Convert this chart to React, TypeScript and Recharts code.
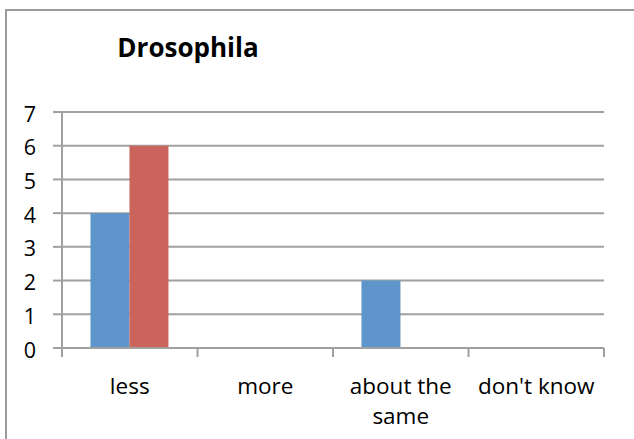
import React from 'react';
import { BarChart, Bar, XAxis, YAxis, CartesianGrid } from 'recharts';

const categories = ['less', 'more', 'about the same', "don't know"];
const categoryLines = [['less'], ['more'], ['about the', 'same'], ["don't know"]];
const seriesBlue = [4, 0, 2, 0];
const seriesRed = [6, 0, 0, 0];
const yTicks = [0, 1, 2, 3, 4, 5, 6, 7];
const title = 'Drosophila';

const data = categories.map((c, i) => ({ category: c, blue: seriesBlue[i], red: seriesRed[i] }));

const FONT = '"Open Sans", "DejaVu Sans", sans-serif';
const AXIS = '#a0a0a0';

const XTick = (props: any) => {
  const { x, y, payload, index, width } = props;
  const half = payload && payload.offset ? payload.offset : width / (2 * categories.length);
  const lines = categoryLines[index] || [String(payload.value)];
  const top = y - 9;
  return (
    <g>
      <line x1={x - half} x2={x - half} y1={top} y2={y} stroke={AXIS} strokeWidth={2} />
      {index === categories.length - 1 && (
        <line x1={x + half} x2={x + half} y1={top} y2={y} stroke={AXIS} strokeWidth={2} />
      )}
      <text x={x} y={y} textAnchor="middle" fontFamily={FONT} fontSize={22.5} fill="#000">
        {lines.map((l: string, i: number) => (
          <tspan key={i} x={x} dy={i === 0 ? 37 : 30}>
            {l}
          </tspan>
        ))}
      </text>
    </g>
  );
};

const YTick = (props: any) => {
  const { x, y, payload } = props;
  return (
    <text x={x} y={y} dy={9.5} textAnchor="end" fontFamily={FONT} fontSize={21.5} fill="#000">
      {payload.value}
    </text>
  );
};

export default function App() {
  return (
    <div style={{ position: 'absolute', left: 0, top: 0, width: 634, height: 439, overflow: 'hidden', background: '#fff' }}>
      <BarChart
        width={634}
        height={439}
        data={data}
        margin={{ top: 112, right: 30, left: 0, bottom: 0 }}
        barCategoryGap="21%"
        barGap={0}
      >
        <CartesianGrid horizontal vertical={false} stroke={AXIS} strokeWidth={2} />
        <XAxis
          dataKey="category"
          height={91}
          axisLine={{ stroke: AXIS, strokeWidth: 2 }}
          tickLine={false}
          tickSize={9}
          tickMargin={0}
          interval={0}
          tick={<XTick />}
        />
        <YAxis
          width={62}
          domain={[0, 7]}
          ticks={yTicks}
          interval={0}
          axisLine={{ stroke: AXIS, strokeWidth: 2 }}
          tickLine={{ stroke: AXIS, strokeWidth: 2 }}
          tickSize={9}
          tickMargin={17}
          tick={<YTick />}
        />
        <Bar dataKey="blue" fill="#5E95CA" isAnimationActive={false} />
        <Bar dataKey="red" fill="#CC645E" isAnimationActive={false} />
      </BarChart>
      <svg width={634} height={439} style={{ position: 'absolute', left: 0, top: 0, pointerEvents: 'none' }}>
        <path d="M6 439 L6 10 L634 10" fill="none" stroke="#9a9a9a" strokeWidth={2} />
        <text x={188} y={57} textAnchor="middle" fontFamily={FONT} fontWeight="bold" fontSize={26} fill="#000">
          {title}
        </text>
      </svg>
    </div>
  );
}
